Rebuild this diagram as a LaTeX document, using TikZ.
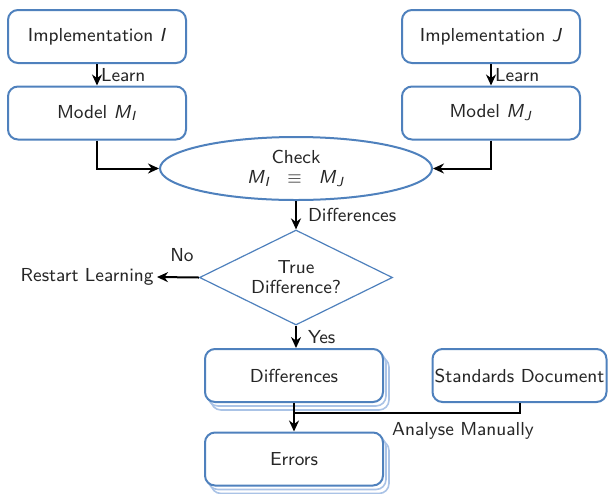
\documentclass[tikz,border=0pt]{standalone}
\usetikzlibrary{shapes.geometric,shadows,arrows.meta}
\definecolor{boxblue}{RGB}{79,129,189}
\definecolor{shadowblue}{RGB}{170,195,230}
\newcommand{\vi}[1]{\textit{#1}}
\newcommand{\mdl}[2]{\textit{#1}\textsubscript{\textit{#2}}}
\begin{document}
\begin{tikzpicture}[x=0.5pt,y=-0.5pt,
  font=\sffamily\fontsize{9.4}{11}\selectfont,
  box/.style={draw=boxblue,line width=1pt,rounded corners=5pt,fill=white,
    minimum width=89pt,minimum height=26.5pt,inner sep=1pt,text=black!85},
  stackbox/.style={box,double copy shadow={shadow xshift=1.5pt,shadow yshift=-2pt,draw=shadowblue,line width=0.8pt,fill=white}},
  arr/.style={-{Stealth[length=5.5pt,width=5pt]},line width=1pt},
  lbl/.style={text=black!85,inner sep=1.5pt}]
\useasboundingbox (0,0) rectangle (608,493);
\node[box] (implI) at (97,36.5) {Implementation \vi{I}};
\node[box] (modelI) at (97,113) {Model \mdl{M}{I}};
\node[box] (implJ) at (491,36.5) {Implementation \vi{J}};
\node[box] (modelJ) at (491,113) {Model \mdl{M}{J}};
\node[ellipse,draw=boxblue,line width=1pt,fill=white,minimum width=136pt,minimum height=31.5pt,inner sep=0pt,align=center,text=black!85] (check) at (296,168.5) {Check\\[-1pt]\mdl{M}{I}\hspace{0.9em}$\equiv$\hspace{0.9em}\mdl{M}{J}};
\node[diamond,draw=boxblue,line width=0.6pt,fill=white,aspect=2.03,minimum width=96.5pt,minimum height=47.5pt,inner sep=0pt,align=center,text=black!85] (true) at (296,277.5) {True\\[-1pt]Difference?};
\node[lbl,anchor=east] (restart) at (157,277) {Restart Learning};
\node[stackbox] (diff) at (294,375.5) {Differences};
\node[box,minimum width=87pt] (std) at (519.5,375.5) {Standards Document};
\node[stackbox] (errors) at (294,459) {Errors};
\coordinate (join) at (294,413);
\node[lbl] (analyse) at (463,431) {Analyse Manually};

\draw[arr] (implI) -- node[lbl,right] {Learn} (modelI);
\draw[arr] (implJ) -- node[lbl,right] {Learn} (modelJ);
\draw[arr] (modelI.south) |- (check.west);
\draw[arr] (modelJ.south) |- (check.east);
\draw[arr] (check.south -| true.north) -- node[lbl,right,xshift=4pt] {Differences} (true.north);
\draw[arr] (true.west) -- node[lbl,above,yshift=6pt,xshift=2pt] {No} (restart.east);
\draw[arr] (true.south) -- node[lbl,right,xshift=4pt] {Yes} (true.south |- diff.north);
\draw[line width=1pt] (std.south) |- (join);
\draw[arr] (diff.south) -- (errors.north);
\end{tikzpicture}
\end{document}
